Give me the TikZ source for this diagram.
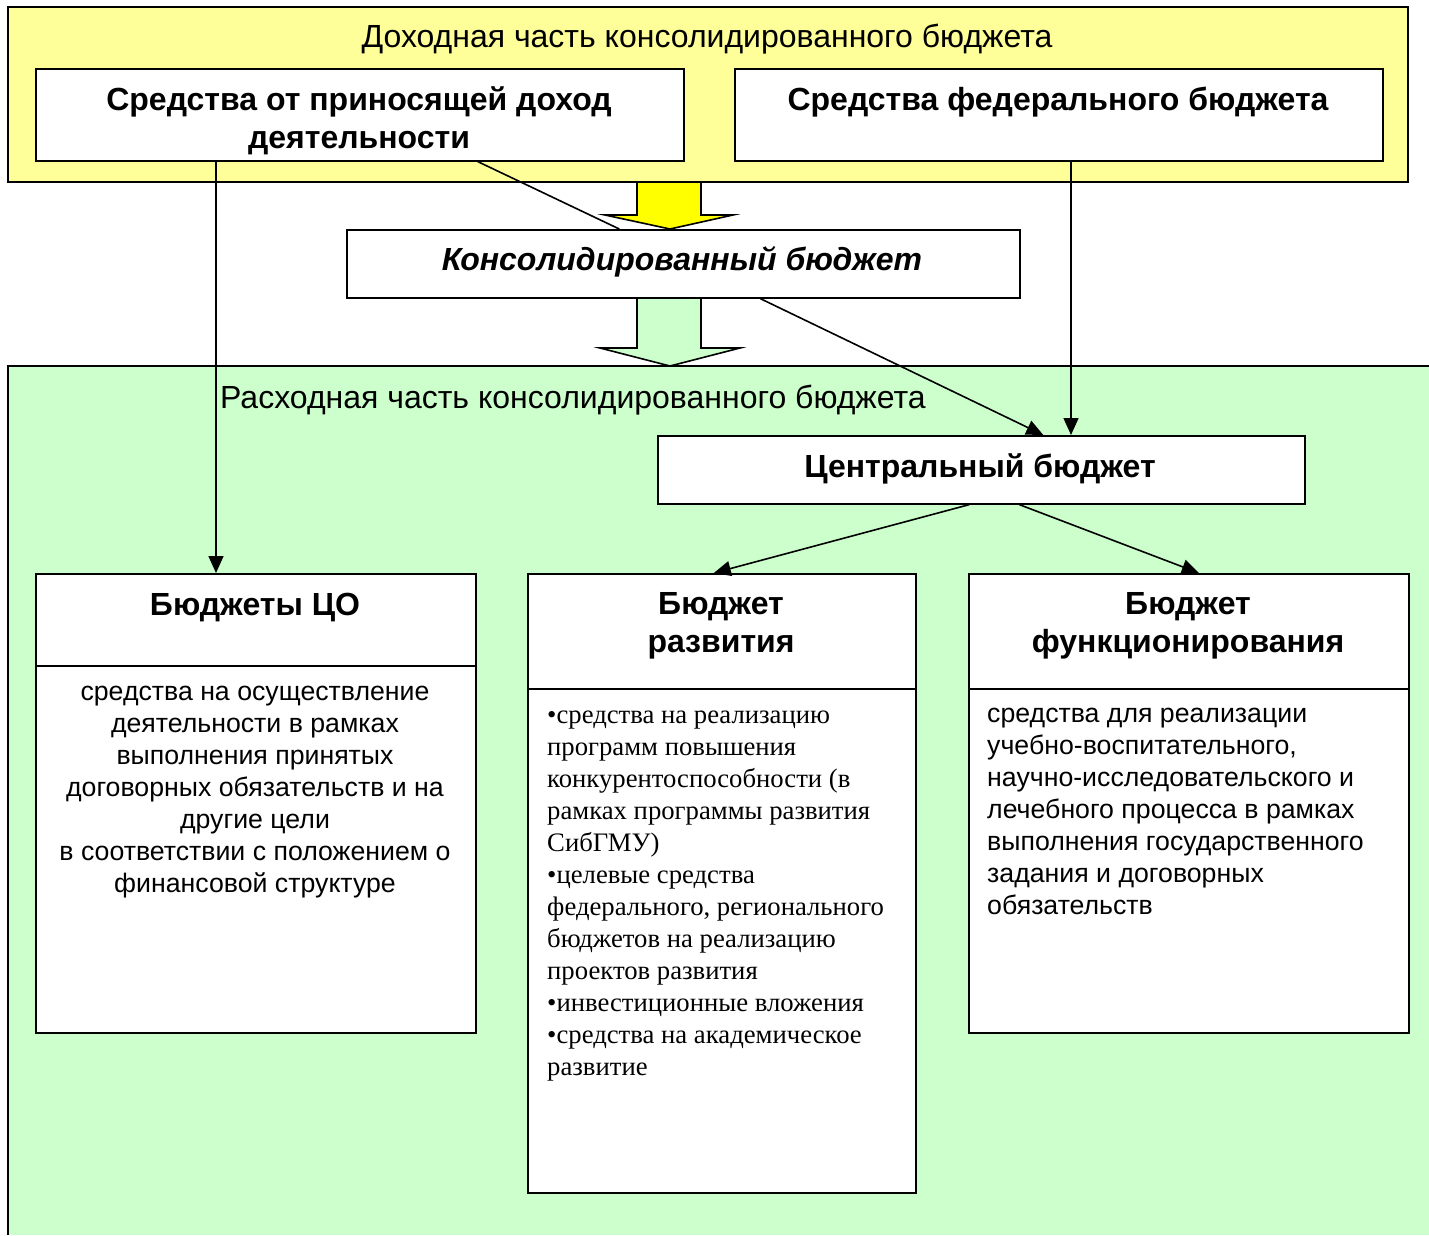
\documentclass[tikz,border=0pt]{standalone}
\usepackage{fontspec}
\setmainfont{Liberation Sans}
\newfontfamily\timesfont{Liberation Serif}
\usetikzlibrary{arrows.meta,positioning}
\definecolor{incomeyellow}{HTML}{FFFF99}
\definecolor{spendgreen}{HTML}{CCFFCC}
\definecolor{arrowyellow}{HTML}{FFFF00}
\tikzset{
  box/.style={draw, fill=white, line width=1.6pt, inner sep=0pt, anchor=north west},
  head/.style={font=\fontsize{32}{38}\selectfont\bfseries, align=center, anchor=base, inner sep=0pt},
  parttitle/.style={font=\fontsize{32}{38}\selectfont, inner sep=0pt},
  body/.style={font=\fontsize{26.7}{32}\selectfont, inner sep=0pt},
  arr/.style={-{Triangle[length=17pt,width=15pt]}, line width=1.6pt},
}
\begin{document}
\begin{tikzpicture}[x=1pt, y=-1pt]
 \useasboundingbox (0,0) rectangle (1429,1235);
 % income part
 \draw[fill=incomeyellow, line width=1.6pt] (8,7) rectangle (1408,182);
 \node[parttitle, anchor=base] (incometitle) at (707,47)
      {Доходная часть консолидированного бюджета};
 % spending part
 \fill[spendgreen] (8,366) rectangle (1429,1235);
 \draw[line width=1.6pt] (8,1235) -- (8,366) -- (1429,366);
 \node[parttitle, anchor=base west] (spendtitle) at (220,408)
      {Расходная часть консолидированного бюджета};
 % block arrows
 \draw[fill=arrowyellow, line width=1.6pt]
      (637,182) -- (701,182) -- (701,215) -- (733,215) -- (670,229)
      -- (605,215) -- (637,215) -- cycle;
 \draw[fill=spendgreen, line width=1.6pt]
      (637,298) -- (701,298) -- (701,348) -- (740,348) -- (670,366)
      -- (600,348) -- (637,348) -- cycle;
 % boxes
 \node[box, minimum width=648pt, minimum height=92pt] (src) at (35,68) {};
 \node[box, minimum width=648pt, minimum height=92pt] (fed) at (734,68) {};
 \node[box, minimum width=673pt, minimum height=68pt] (cons) at (346,229) {};
 \node[box, minimum width=647pt, minimum height=68pt] (central) at (657,435) {};
 \node[box, minimum width=440pt, minimum height=92pt] (cotop) at (35,573) {};
 \node[box, minimum width=440pt, minimum height=367pt] (cobody) at (35,665) {};
 \node[box, minimum width=388pt, minimum height=115pt] (devtop) at (527,573) {};
 \node[box, minimum width=388pt, minimum height=504pt] (devbody) at (527,688) {};
 \node[box, minimum width=440pt, minimum height=115pt] (functop) at (968,573) {};
 \node[box, minimum width=440pt, minimum height=344pt] (funcbody) at (968,688) {};
 % headings (base = last line)
 \node[head] (srctext) at (359,148) {Средства от приносящей доход\\деятельности};
 \node[head] (fedtext) at (1058,110) {Средства федерального бюджета};
 \node[head, font=\fontsize{32}{38}\selectfont\bfseries\itshape] (constext) at (682,270)
      {Консолидированный бюджет};
 \node[head] (centraltext) at (980,477) {Центральный бюджет};
 \node[head] (cotext) at (255,615) {Бюджеты ЦО};
 \node[head] (devtext) at (721,652) {Бюджет\\развития};
 \node[head] (functext) at (1188,652) {Бюджет\\функционирования};
 % contents
 \node[body, align=center, anchor=base] (colist) at (255,892)
      {средства на осуществление\\деятельности в рамках\\выполнения принятых\\
       договорных обязательств и на\\другие цели\\в соответствии с положением о\\
       финансовой структуре};
 \node[body, font=\fontsize{26.7}{32}\selectfont\timesfont, align=left, anchor=base west]
      (devlist) at (547,1075)
      {•средства на реализацию\\программ повышения\\конкурентоспособности (в\\
       рамках программы развития\\СибГМУ)\\•целевые средства\\
       федерального, регионального\\бюджетов на реализацию\\проектов развития\\
       •инвестиционные вложения\\•средства на академическое\\развитие};
 \node[body, align=left, anchor=base west] (funclist) at (987,914)
      {средства для реализации\\учебно-воспитательного,\\научно-исследовательского и\\
       лечебного процесса в рамках\\выполнения государственного\\задания и договорных\\
       обязательств};
 % connectors
 \coordinate (leftdrop) at (216,0);
 \coordinate (rightdrop) at (1071,0);
 \draw[arr] (src.south -| leftdrop) -- (cotop.north -| leftdrop);
 \draw[arr] (fed.south -| rightdrop) -- (central.north -| rightdrop);
 \draw[line width=1.6pt] ([xshift=118pt]src.south) -- ([xshift=-64pt]cons.north);
 \draw[arr] ([xshift=77pt]cons.south) -- ([xshift=62pt]central.north);
 \draw[arr] ([xshift=-12pt]central.south) -- ([xshift=-8pt]devtop.north);
 \draw[arr] ([xshift=38pt]central.south) -- ([xshift=10pt]functop.north);
\end{tikzpicture}
\end{document}
